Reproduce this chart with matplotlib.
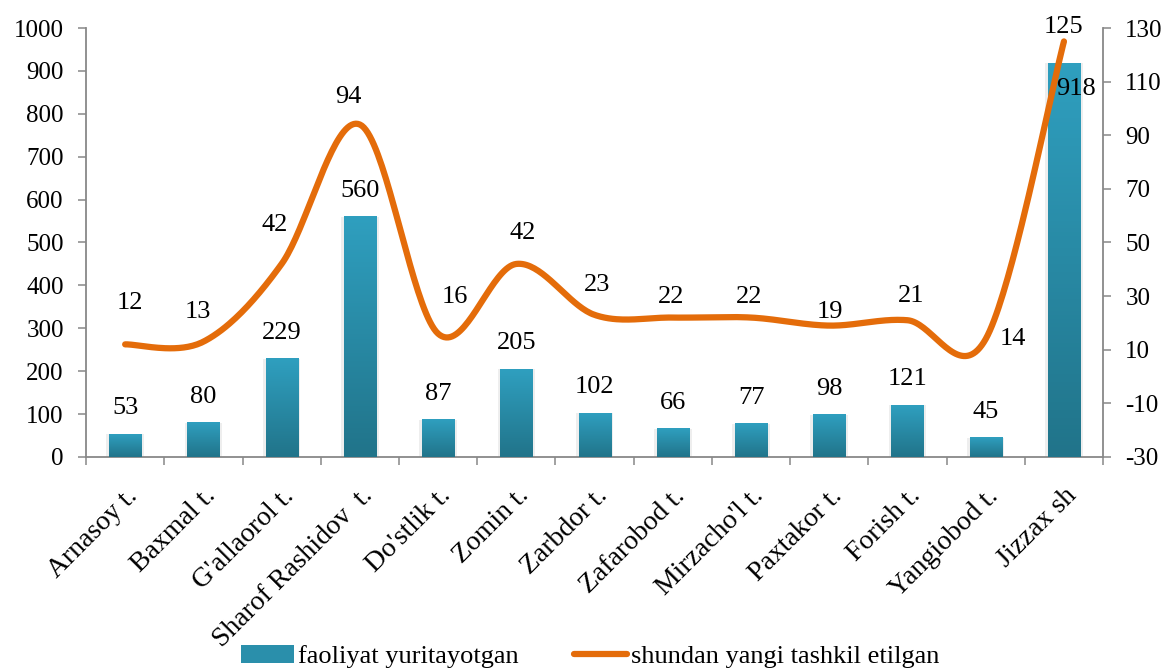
import numpy as np
import matplotlib
matplotlib.use('Agg')
from matplotlib import pyplot as plt
from matplotlib.colors import LinearSegmentedColormap
from matplotlib.lines import Line2D
from matplotlib.patches import Patch

# data
categories = ['Arnasoy t.', 'Baxmal t.', "G'allaorol t.", 'Sharof Rashidov  t.',
              "Do'stlik t.", 'Zomin t.', 'Zarbdor t.', 'Zafarobod t.',
              "Mirzacho'l t.", 'Paxtakor t.', 'Forish t.', 'Yangiobod t.', 'Jizzax sh']
faoliyat = [53, 80, 229, 560, 87, 205, 102, 66, 77, 98, 121, 45, 918]
yangi = [12, 13, 42, 94, 16, 42, 23, 22, 22, 19, 21, 14, 125]

left_ticks = list(range(0, 1001, 100))
right_ticks = list(range(-30, 131, 20))

# label offsets in pixels (dx, dy)
line_lab_off = [(5, 41), (-6, 30), (-7, 39), (-12, 28), (17, 37), (6, 31), (3, 30),
                (-2, 21), (-2, 21), (1, 14), (4, 24), (27, 0), (0, 14)]
bar_lab_off = [(0, 26)] * 12 + [(12, -26)]

plt.rcParams['font.family'] = ['Liberation Serif', 'DejaVu Serif']
plt.rcParams['axes.unicode_minus'] = False

GRAY = '#888888'
ORANGE = '#e46c0a'
bar_cmap = LinearSegmentedColormap.from_list('bar', ['#21748a', '#2f9fbf'])


def smooth(xs, ys, n=40):
    # excel-like smoothed line (catmull-rom as bezier)
    pts = np.column_stack([xs, ys]).astype(float)
    p = np.vstack([pts[0], pts, pts[-1]])
    t = np.linspace(0, 1, n)[:, None]
    segs = []
    for i in range(1, len(p) - 2):
        p0, p1, p2, p3 = p[i - 1], p[i], p[i + 1], p[i + 2]
        c1 = p1 + (p2 - p0) / 6
        c2 = p2 - (p3 - p1) / 6
        segs.append((1 - t) ** 3 * p1 + 3 * (1 - t) ** 2 * t * c1
                    + 3 * (1 - t) * t ** 2 * c2 + t ** 3 * p2)
    s = np.vstack(segs)
    return s[:, 0], s[:, 1]


fig = plt.figure(figsize=(11.69, 6.72), dpi=100)
ax = fig.add_axes([0.0736, 0.32, 0.87, 0.6383])
x = np.arange(len(categories))
bw = 0.41

# faint glow behind bars
ax.bar(x, np.array(faoliyat) + 3, width=bw + 0.07, bottom=-3, color='#eeeeee', zorder=1)
bars = ax.bar(x, faoliyat, width=bw, color='#2a8fab', zorder=2)
grad = np.linspace(0, 1, 100)[:, None]
for b in bars:
    ax.imshow(grad, cmap=bar_cmap, aspect='auto', origin='lower', zorder=3,
              extent=[b.get_x(), b.get_x() + b.get_width(), 0, b.get_height()])

ax.set_xlim(-0.5, len(categories) - 0.5)
ax.set_ylim(0, 1000)
ax.set_yticks(left_ticks)
ax.set_xticks(x)
ax.set_xticklabels(categories, rotation=45, ha='right', va='top',
                   rotation_mode='anchor', fontsize=20)
ax.set_xticks(np.arange(len(categories) + 1) - 0.5, minor=True)
ax.tick_params(axis='x', which='major', length=0, pad=19)
ax.tick_params(axis='x', which='minor', length=6, width=1.1, color=GRAY)
ax.tick_params(axis='y', length=6, width=1.1, color=GRAY, pad=10, labelsize=18)
for s in ['top', 'right']:
    ax.spines[s].set_visible(False)
for s in ['left', 'bottom']:
    ax.spines[s].set_color(GRAY)
    ax.spines[s].set_linewidth(1.3)

ax2 = ax.twinx()
sx, sy = smooth(x, yangi)
ax2.plot(sx, sy, color=ORANGE, lw=4.5, solid_capstyle='round', zorder=4)
ax2.set_ylim(-30, 130)
ax2.set_yticks(right_ticks)
ax2.tick_params(axis='y', length=6, width=1.1, color=GRAY, pad=10, labelsize=18)
for s in ['top', 'left', 'bottom']:
    ax2.spines[s].set_visible(False)
ax2.spines['right'].set_color(GRAY)
ax2.spines['right'].set_linewidth(1.3)

for i, v in enumerate(faoliyat):
    ax2.annotate(str(v), xy=(i, v), xycoords=ax.transData, xytext=bar_lab_off[i],
                 textcoords='offset pixels', ha='center', va='center', fontsize=19, zorder=6)
for i, v in enumerate(yangi):
    ax2.annotate(str(v), xy=(i, v), xycoords='data', xytext=line_lab_off[i],
                 textcoords='offset pixels', ha='center', va='center', fontsize=19, zorder=6)

handles = [Patch(facecolor='#2a8fab', edgecolor='none'),
           Line2D([0], [0], color=ORANGE, lw=4.5, solid_capstyle='round')]
fig.legend(handles, ['faoliyat yuritayotgan', 'shundan yangi tashkil etilgan'],
           loc='lower center', bbox_to_anchor=(0.505, -0.03), ncol=2, frameon=False,
           fontsize=19, handlelength=2.0, handletextpad=0.15, columnspacing=2.1)

fig.savefig('out.png', dpi=100)
